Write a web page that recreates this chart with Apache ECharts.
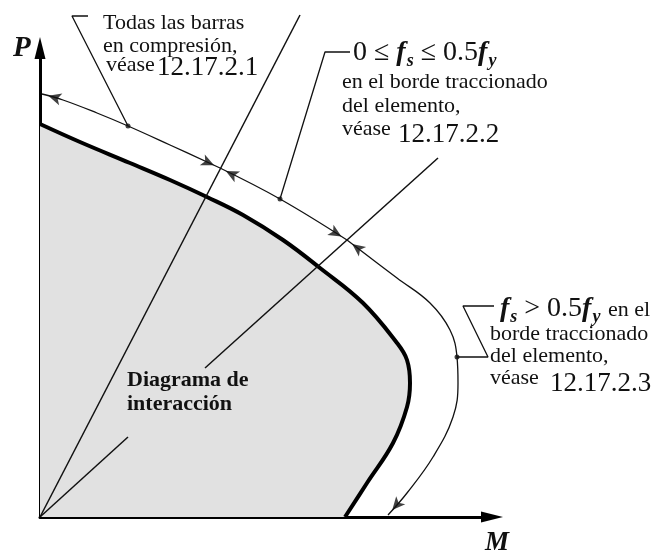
<!DOCTYPE html>
<html>
<head>
<meta charset="utf-8">
<script src="https://cdn.jsdelivr.net/npm/echarts@6/dist/echarts.min.js"></script>
<style>
html, body { margin: 0; padding: 0; background: #fff; }
#diagrama { width: 664px; height: 555px; }
</style>
</head>
<body>
<div id="diagrama"></div>
<script>
// M (horizontal) y P (vertical)
const interaccion = [[0,393],[40,375],[90,354],[130,337],[167,320],[203,302],[243,277],[280,249],[323,214],[357,174],[367,157],[370,134],[367,110],[353,74],[327,34],[305,0]];
const tramo1 = [[2,423],[23,417],[57,404],[88,391],[130,372],[180,349]];
const tramo2 = [[180,349],[240,318],[307,277]];
const tramo3 = [[307,277],[357,239],[390,214],[410,187],[417,160],[418,134],[413,100],[393,60],[367,24],[348,2]];
const guia1 = [[88,391],[32,501],[48,501]];
const guia2 = [[240,318],[285,465],[310,465]];
const guia3 = [[417,160],[448,160],[423,211],[460,211]];
const rayo1 = [[0,0],[260,502]];
const rayo2a = [[0,0],[88,80]];
const rayo2b = [[165,149],[398,359]];
const puntos = [[88,391],[240,318],[417,160]];

const ALTO = 13;
const SERIF = "'Liberation Serif', 'DejaVu Serif', serif";
const ctx = document.createElement('canvas').getContext('2d');

function fuente(size, estilo) {
  return (estilo || '') + ' ' + size + 'px ' + SERIF;
}

// puntas de flecha en los extremos de cada tramo
function puntas(tramo) {
  const n = tramo.length;
  return [[tramo[0], tramo[1]], [tramo[n - 1], tramo[n - 2]]].map(function (par) {
    const p = par[0], q = par[1];
    const dx = p[0] - q[0], dy = p[1] - q[1], L = Math.hypot(dx, dy);
    const ux = dx / L, uy = dy / L;
    return {
      value: [p[0] - ux * ALTO / 2, p[1] - uy * ALTO / 2],
      symbolRotate: Math.atan2(uy, ux) * 180 / Math.PI - 90
    };
  });
}

// texto en trozos (para subíndices), base = línea base
function texto(x, base, partes) {
  let cx = x;
  const out = [];
  partes.forEach(function (p) {
    const size = p.size || 22;
    const font = fuente(size, p.estilo);
    const b = base + (p.sub || 0);
    out.push({
      type: 'text', z: 100,
      style: { x: cx, y: b - 0.3375 * size, text: p.t, font: font, fill: '#111', verticalAlign: 'middle' }
    });
    ctx.font = font;
    cx += ctx.measureText(p.t).width + (p.extra || 0);
  });
  return out;
}

let graficos = [];
graficos = graficos.concat(
  texto(13, 58, [{ t: 'P', size: 29, estilo: 'italic bold' }]),
  texto(485, 552, [{ t: 'M', size: 27, estilo: 'italic bold' }]),
  texto(103, 31, [{ t: 'Todas las barras' }]),
  texto(103, 54, [{ t: 'en compresión,' }]),
  texto(106, 73, [{ t: 'véase' }]),
  texto(157, 77, [{ t: '12.17.2.1', size: 27 }]),
  texto(353, 62, [
    { t: '0 ≤ ', size: 28 },
    { t: 'f', size: 28, estilo: 'italic bold', extra: 1 },
    { t: 's', size: 18, estilo: 'italic bold', sub: 5 },
    { t: ' ≤ 0.5', size: 28 },
    { t: 'f', size: 28, estilo: 'italic bold', extra: 1 },
    { t: 'y', size: 18, estilo: 'italic bold', sub: 5 }
  ]),
  texto(342, 90, [{ t: 'en el borde traccionado' }]),
  texto(342, 114, [{ t: 'del elemento,' }]),
  texto(342, 137, [{ t: 'véase' }]),
  texto(398, 144, [{ t: '12.17.2.2', size: 27 }]),
  texto(500, 318, [
    { t: 'f', size: 28, estilo: 'italic bold', extra: 1 },
    { t: 's', size: 18, estilo: 'italic bold', sub: 5 },
    { t: ' > 0.5', size: 28 },
    { t: 'f', size: 28, estilo: 'italic bold', extra: 1 },
    { t: 'y', size: 18, estilo: 'italic bold', sub: 5 }
  ]),
  texto(608, 318, [{ t: 'en el' }]),
  texto(490, 342, [{ t: 'borde traccionado' }]),
  texto(490, 364, [{ t: 'del elemento,' }]),
  texto(490, 386, [{ t: 'véase' }]),
  texto(550, 393, [{ t: '12.17.2.3', size: 27 }]),
  texto(127, 388, [{ t: 'Diagrama de', estilo: 'bold' }]),
  texto(127, 412, [{ t: 'interacción', estilo: 'bold' }])
);

function linea(datos, ancho, suave) {
  return {
    type: 'line', data: datos, smooth: suave ? 0.4 : false, symbol: 'none', clip: false,
    lineStyle: { color: '#111', width: ancho }, silent: true, z: 3
  };
}

const chart = echarts.init(document.getElementById('diagrama'));
const option = {
  animation: false,
  backgroundColor: '#fff',
  grid: { left: 40, top: 48, right: 172, bottom: 38 },
  xAxis: {
    type: 'value', min: 0, max: 452,
    axisLine: { onZero: false, symbol: ['none', 'triangle'], symbolSize: [11, 22], lineStyle: { color: '#000', width: 3 } },
    axisTick: { show: false }, axisLabel: { show: false }, splitLine: { show: false }
  },
  yAxis: {
    type: 'value', min: 0, max: 469,
    axisLine: { onZero: false, symbol: ['none', 'triangle'], symbolSize: [11, 22], lineStyle: { color: '#000', width: 3 } },
    axisTick: { show: false }, axisLabel: { show: false }, splitLine: { show: false }
  },
  series: [
    {
      type: 'line', data: interaccion, smooth: 0.4, symbol: 'none', clip: false,
      lineStyle: { color: '#000', width: 4 }, areaStyle: { color: '#e1e1e1', opacity: 1 }, z: 2
    },
    linea(rayo1, 1.5), linea(rayo2a, 1.5), linea(rayo2b, 1.5),
    linea(tramo1, 1.3, true), linea(tramo2, 1.3, true), linea(tramo3, 1.3, true),
    linea(guia1, 1.3), linea(guia2, 1.3), linea(guia3, 1.3),
    {
      type: 'scatter', data: puntos, symbol: 'circle', symbolSize: 5, clip: false,
      itemStyle: { color: '#111' }, silent: true, z: 4
    },
    {
      type: 'scatter', data: puntas(tramo1).concat(puntas(tramo2), puntas(tramo3)),
      symbol: 'arrow', symbolSize: [9, ALTO], clip: false,
      itemStyle: { color: '#111' }, silent: true, z: 4
    }
  ],
  graphic: graficos
};
chart.setOption(option);
window.addEventListener('resize', function () { chart.resize(); });
</script>
</body>
</html>
